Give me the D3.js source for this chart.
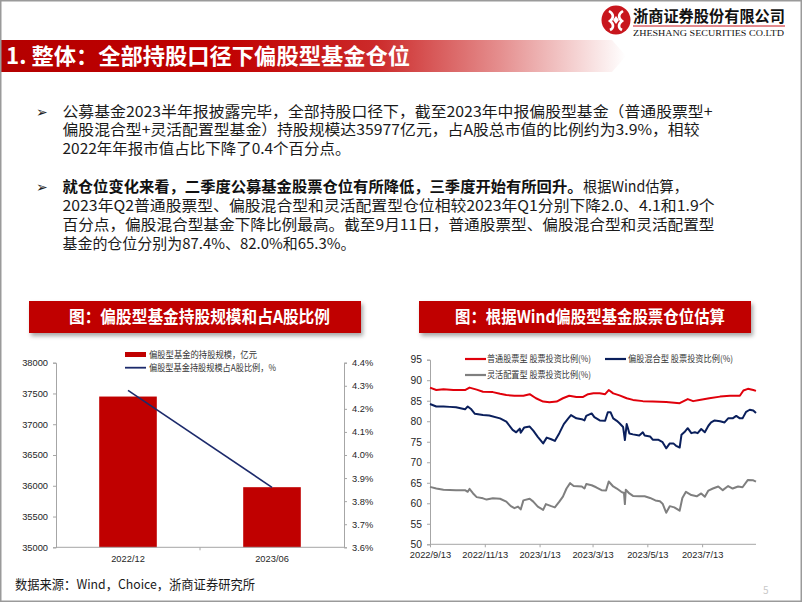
<!DOCTYPE html>
<html>
<head>
<meta charset="utf-8">
<script src="https://cdn.jsdelivr.net/npm/d3@7"></script>
<style>
body { margin: 0; background: #fff; }
svg { display: block; font-family: "Noto Sans CJK SC", "Noto Sans", sans-serif; }
.axis text { font-family: "Liberation Sans", Arial, sans-serif; font-size: 9.3px; fill: #262626; }
.axis.big text { font-size: 10.3px; }
.axis path, .axis line { stroke: #a6a6a6; }
</style>
</head>
<body>
<script>
// ---- data ----
var barCats = ["2022/12", "2023/06"];
var holdScale = [37450, 35977];      // 持股规模, 亿元
var holdShare = [4.28, 3.86];        // 占A股比例, %
var leftTicks = [35000, 35500, 36000, 36500, 37000, 37500, 38000];
var rightTicks = [3.6, 3.7, 3.8, 3.9, 4.0, 4.1, 4.2, 4.3, 4.4];

var posTicks = [50, 55, 60, 65, 70, 75, 80, 85, 90, 95];
var dateTicks = ["2022-09-13", "2022-11-13", "2023-01-13", "2023-03-13", "2023-05-13", "2023-07-13"];

var stockFund = [
  ["2022-09-13",88.2],["2022-09-20",87.6],["2022-09-28",87.8],["2022-10-09",87.6],["2022-10-22",87.6],
  ["2022-10-27",88.2],["2022-11-04",87.7],["2022-11-11",87.2],["2022-11-22",87.1],["2022-11-30",86.7],
  ["2022-12-07",86.4],["2022-12-16",86.2],["2022-12-26",86.2],["2023-01-02",86.6],["2023-01-09",85.6],
  ["2023-01-17",84.8],["2023-01-24",84.6],["2023-02-01",84.8],["2023-02-08",85.6],["2023-02-15",86.2],
  ["2023-02-23",85.9],["2023-03-02",85.9],["2023-03-08",86.6],["2023-03-14",86.8],["2023-03-21",86.8],
  ["2023-03-27",86.6],["2023-03-31",87.6],["2023-04-05",86.8],["2023-04-12",86.3],["2023-04-20",85.6],
  ["2023-04-27",85.2],["2023-05-08",84.9],["2023-05-19",84.8],["2023-06-03",84.7],["2023-06-18",84.4],
  ["2023-06-27",85.4],["2023-07-03",84.9],["2023-07-10",85.2],["2023-07-21",85.6],["2023-08-02",86.0],
  ["2023-08-13",86.2],["2023-08-24",86.2],["2023-08-28",87.5],["2023-09-02",87.9],["2023-09-08",87.6],
  ["2023-09-11",87.4]
];
var mixedFund = [
  ["2022-09-13",84.2],["2022-09-20",83.6],["2022-09-28",83.6],["2022-10-05",83.5],["2022-10-12",83.4],
  ["2022-10-22",82.9],["2022-10-25",83.6],["2022-10-29",82.9],["2022-11-02",81.8],["2022-11-11",81.5],
  ["2022-11-18",81.4],["2022-11-30",80.7],["2022-12-07",79.9],["2022-12-14",77.9],["2022-12-18",77.3],
  ["2022-12-22",78.2],["2022-12-23",77.2],["2022-12-27",78.5],["2023-01-02",78.7],["2023-01-06",77.7],
  ["2023-01-11",76.2],["2023-01-17",74.6],["2023-01-21",76.0],["2023-01-26",75.6],["2023-01-30",75.2],
  ["2023-02-04",77.1],["2023-02-09",79.3],["2023-02-14",80.7],["2023-02-17",81.5],["2023-02-23",80.7],
  ["2023-03-01",80.5],["2023-03-04",80.2],["2023-03-06",81.3],["2023-03-12",81.9],["2023-03-15",81.0],
  ["2023-03-21",80.2],["2023-03-27",80.1],["2023-03-30",82.2],["2023-04-02",82.2],["2023-04-05",80.7],
  ["2023-04-09",80.1],["2023-04-12",79.5],["2023-04-16",78.6],["2023-04-18",75.4],["2023-04-20",79.3],
  ["2023-04-21",78.6],["2023-04-23",77.0],["2023-04-27",76.8],["2023-05-04",76.5],["2023-05-08",77.3],
  ["2023-05-10",76.5],["2023-05-16",76.3],["2023-05-19",75.5],["2023-05-25",75.5],["2023-05-30",74.9],
  ["2023-06-03",73.4],["2023-06-07",74.6],["2023-06-11",74.6],["2023-06-14",74.0],["2023-06-18",73.6],
  ["2023-06-20",76.7],["2023-06-24",77.5],["2023-06-27",78.3],["2023-07-01",77.1],["2023-07-05",77.3],
  ["2023-07-08",77.1],["2023-07-12",78.1],["2023-07-16",77.3],["2023-07-20",78.9],["2023-07-23",79.7],
  ["2023-07-27",80.2],["2023-08-02",80.0],["2023-08-07",79.7],["2023-08-11",80.7],["2023-08-16",80.7],
  ["2023-08-20",81.3],["2023-08-24",80.7],["2023-08-27",80.7],["2023-08-31",82.3],["2023-09-04",82.8],
  ["2023-09-08",82.6],["2023-09-11",82.0]
];
var flexFund = [
  ["2022-09-13",64.0],["2022-09-20",63.6],["2022-09-28",63.3],["2022-10-12",63.2],["2022-10-22",63.2],
  ["2022-10-25",62.8],["2022-10-27",63.5],["2022-10-31",62.4],["2022-11-04",61.5],["2022-11-11",61.2],
  ["2022-11-15",60.9],["2022-11-22",61.2],["2022-11-30",61.1],["2022-12-07",60.4],["2022-12-12",59.3],
  ["2022-12-16",58.8],["2022-12-20",59.2],["2022-12-23",58.5],["2022-12-26",60.7],["2023-01-02",61.1],
  ["2023-01-06",60.4],["2023-01-11",59.2],["2023-01-17",58.4],["2023-01-20",59.8],["2023-01-26",59.3],
  ["2023-01-30",59.0],["2023-02-04",60.4],["2023-02-08",61.6],["2023-02-12",63.6],["2023-02-16",64.9],
  ["2023-02-20",64.2],["2023-03-01",64.1],["2023-03-04",63.6],["2023-03-06",64.7],["2023-03-12",64.4],
  ["2023-03-17",63.9],["2023-03-23",63.2],["2023-03-28",63.1],["2023-03-31",65.3],["2023-04-05",64.1],
  ["2023-04-09",63.6],["2023-04-14",62.8],["2023-04-17",62.5],["2023-04-18",59.8],["2023-04-19",63.3],
  ["2023-04-23",62.4],["2023-04-27",61.8],["2023-05-04",61.7],["2023-05-10",61.7],["2023-05-16",61.3],
  ["2023-05-22",60.7],["2023-05-27",60.5],["2023-05-30",59.9],["2023-06-03",57.7],["2023-06-07",59.3],
  ["2023-06-12",59.0],["2023-06-18",58.2],["2023-06-21",61.3],["2023-06-25",62.8],["2023-07-01",62.0],
  ["2023-07-07",61.7],["2023-07-12",62.4],["2023-07-16",61.6],["2023-07-20",63.1],["2023-07-25",63.6],
  ["2023-07-31",64.1],["2023-08-05",63.2],["2023-08-11",64.2],["2023-08-16",63.6],["2023-08-22",64.1],
  ["2023-08-27",63.9],["2023-09-02",65.7],["2023-09-08",65.6],["2023-09-11",65.3]
];

var seriesNames = ["普通股票型 股票投资比例(%)", "偏股混合型 股票投资比例(%)", "灵活配置型 股票投资比例(%)"];
var seriesColors = ["#e0000b", "#0a1f5c", "#7f7f7f"];

var svg = d3.select("body").append("svg")
    .attr("width", 802)
    .attr("height", 602);

var defs = svg.append("defs");
var grad = defs.append("linearGradient").attr("id", "bannerGrad")
    .attr("x1", "0%").attr("x2", "100%").attr("y1", "0%").attr("y2", "0%");
grad.append("stop").attr("offset", "0%").attr("stop-color", "#b40000");
grad.append("stop").attr("offset", "35%").attr("stop-color", "#c00000");
grad.append("stop").attr("offset", "60%").attr("stop-color", "#cc2a2a");
grad.append("stop").attr("offset", "80%").attr("stop-color", "#e58f8f");
grad.append("stop").attr("offset", "100%").attr("stop-color", "#ffffff");

var shadow = defs.append("filter").attr("id", "shadow")
    .attr("x", "-5%").attr("y", "-20%").attr("width", "115%").attr("height", "160%");
shadow.append("feDropShadow").attr("dx", 2).attr("dy", 3).attr("stdDeviation", 2)
    .attr("flood-color", "#000").attr("flood-opacity", 0.35);

// text fitted to the width measured on the slide
function txt(g, str, x, y, w, size, o) {
  o = o || {};
  var t = g.append("text")
      .attr("x", x).attr("y", y)
      .attr("font-size", size)
      .attr("fill", o.fill || "#1a1a1a")
      .text(str);
  if (o.bold) t.attr("font-weight", "bold");
  if (o.family) t.attr("font-family", o.family);
  if (o.anchor) t.attr("text-anchor", o.anchor);
  if (w) t.attr("textLength", w).attr("lengthAdjust", "spacingAndGlyphs");
  return t;
}

// ---- header ----
svg.append("path")
    .attr("d", "M0,40 L612,40 L626,56 L612,72 L0,72 Z")
    .style("fill", "url(#bannerGrad)");
txt(svg, "1. 整体：全部持股口径下偏股型基金仓位", 6, 64, 404, 22, {fill: "#fff", bold: true});

// logo
var logo = svg.append("g").attr("transform", "translate(616,20)");
logo.append("circle").attr("r", 14.5).style("fill", "#c8161d");
logo.append("path").attr("d", "M-7,-9 C-2,-6 -2,-2 -6,1 C-2,4 -2,8 -6,10")
    .style("fill", "none").style("stroke", "#fff").style("stroke-width", 2.6);
logo.append("path").attr("d", "M7,-9 C2,-6 2,-2 6,1 C2,4 2,8 6,10")
    .style("fill", "none").style("stroke", "#fff").style("stroke-width", 2.6);
logo.append("path").attr("d", "M0,-4 L3,0 L0,4 L-3,0 Z").style("fill", "#fff");
txt(svg, "浙商证券股份有限公司", 633, 22, 152, 15.5, {fill: "#111", bold: true});
svg.append("line").attr("x1", 633).attr("x2", 785).attr("y1", 26).attr("y2", 26)
    .style("stroke", "#c8161d").style("stroke-width", 1);
txt(svg, "ZHESHANG SECURITIES CO.LTD", 633, 36, 151, 9, {fill: "#111", family: "'Liberation Serif', serif"});

// ---- body text ----
var body = svg.append("g");
var fs = 15;
[116.5, 191.5].forEach(function(y) {
  txt(body, "➢", 36, y, null, 14, {family: "'DejaVu Sans', sans-serif", fill: "#222"});
});
txt(body, "公募基金2023半年报披露完毕，全部持股口径下，截至2023年中报偏股型基金（普通股票型+", 62.5, 116.5, 650, fs);
txt(body, "偏股混合型+灵活配置型基金）持股规模达35977亿元，占A股总市值的比例约为3.9%，相较", 62.5, 135, 637, fs);
txt(body, "2022年年报市值占比下降了0.4个百分点。", 62.5, 153.5, 288, fs);
txt(body, "就仓位变化来看，二季度公募基金股票仓位有所降低，三季度开始有所回升。", 62.5, 191.5, 520, fs, {bold: true, fill: "#111"});
txt(body, "根据Wind估算，", 583, 191.5, 105, fs);
txt(body, "2023年Q2普通股票型、偏股混合型和灵活配置型仓位相较2023年Q1分别下降2.0、4.1和1.9个", 62.5, 210.5, 652, fs);
txt(body, "百分点，偏股混合型基金下降比例最高。截至9月11日，普通股票型、偏股混合型和灵活配置型", 62.5, 229.5, 652, fs);
txt(body, "基金的仓位分别为87.4%、82.0%和65.3%。", 62.5, 248.5, 293, fs);

// ---- chart title boxes ----
[[29, "图：偏股型基金持股规模和占A股比例", 69, 261], [419, "图：根据Wind偏股型基金股票仓位估算", 455, 270]].forEach(function(b) {
  svg.append("rect").attr("x", b[0]).attr("y", 301).attr("width", 332).attr("height", 32)
      .style("fill", "#c00000").attr("filter", "url(#shadow)");
  txt(svg, b[1], b[2], 323, b[3], 17, {fill: "#fff", bold: true});
});

// ---- left chart: bars + line ----
var x0 = d3.scaleBand().domain(barCats).range([56, 344]).paddingInner(0.6).paddingOuter(0.3);
var yL = d3.scaleLinear().domain([35000, 38000]).range([547.3, 362.7]);
var yR = d3.scaleLinear().domain([3.6, 4.4]).range([547.3, 362.7]);

var left = svg.append("g");
left.selectAll(".bar")
    .data(barCats)
  .enter().append("rect")
    .attr("class", "bar")
    .attr("x", function(d) { return x0(d); })
    .attr("width", x0.bandwidth())
    .attr("y", function(d, i) { return yL(holdScale[i]); })
    .attr("height", function(d, i) { return yL(35000) - yL(holdScale[i]); })
    .style("fill", "#c00000");

left.append("g").attr("class", "axis")
    .attr("transform", "translate(56,0)")
    .call(d3.axisLeft(yL).tickValues(leftTicks).tickSize(3).tickPadding(5).tickFormat(d3.format("d")));
left.append("g").attr("class", "axis")
    .attr("transform", "translate(344,0)")
    .call(d3.axisRight(yR).tickValues(rightTicks).tickSize(3).tickPadding(5).tickFormat(function(d) { return d.toFixed(1) + "%"; }));
var xAxisL = left.append("g").attr("class", "axis")
    .attr("transform", "translate(0,547.3)")
    .call(d3.axisBottom(x0).tickSize(0).tickPadding(8));
xAxisL.select(".domain").attr("d", "M56,0H344");
xAxisL.append("line").attr("x1", 200).attr("x2", 200).attr("y1", 0).attr("y2", 3);

var lineL = d3.line()
    .x(function(d, i) { return x0(barCats[i]) + x0.bandwidth() / 2; })
    .y(function(d) { return yR(d); });
left.append("path")
    .datum(holdShare)
    .attr("d", lineL)
    .style("fill", "none")
    .style("stroke", "#1c2a6b")
    .style("stroke-width", 1.6);

// left legend
left.append("rect").attr("x", 125).attr("y", 352).attr("width", 21).attr("height", 5).style("fill", "#c00000");
txt(left, "偏股型基金的持股规模，亿元", 149, 357.5, 108, 9, {fill: "#333"});
left.append("line").attr("x1", 125).attr("x2", 146).attr("y1", 367.7).attr("y2", 367.7)
    .style("stroke", "#1c2a6b").style("stroke-width", 1.8);
txt(left, "偏股型基金持股规模占A股比例，%", 149, 371, 127, 9, {fill: "#333"});

// ---- right chart: positions ----
var parse = d3.timeParse("%Y-%m-%d");
var xT = d3.scaleTime().domain([parse("2022-09-13"), parse("2023-09-11")]).range([430, 756]);
var yP = d3.scaleLinear().domain([50, 95]).range([544.3, 359.7]);

var right = svg.append("g");
right.append("g").attr("class", "axis big")
    .attr("transform", "translate(430,0)")
    .call(d3.axisLeft(yP).tickValues(posTicks).tickSize(3).tickPadding(5));
var xAxisR = right.append("g").attr("class", "axis")
    .attr("transform", "translate(0,544.3)")
    .call(d3.axisBottom(xT).tickValues(dateTicks.map(parse)).tickSize(3).tickPadding(4)
      .tickFormat(d3.timeFormat("%Y/%-m/%-d")));
xAxisR.select(".domain").attr("d", "M430,0H756");

var lineR = d3.line()
    .x(function(d) { return xT(parse(d[0])); })
    .y(function(d) { return yP(d[1]); });

[flexFund, mixedFund, stockFund].forEach(function(s, k) {
  var idx = [2, 1, 0][k];
  right.append("path")
      .datum(s)
      .attr("d", lineR)
      .style("fill", "none")
      .style("stroke", seriesColors[idx])
      .style("stroke-width", 2)
      .style("stroke-linejoin", "round");
});

// right legend
var legPos = [[465, 359, 487, 104], [605, 359, 628, 105], [465, 375, 487, 104]];
legPos.forEach(function(p, i) {
  right.append("line").attr("x1", p[0]).attr("x2", p[0] + 21).attr("y1", p[1]).attr("y2", p[1])
      .style("stroke", seriesColors[i]).style("stroke-width", 2.2);
  txt(right, seriesNames[i], p[2], p[1] + 3.2, p[3], 9, {fill: "#333"});
});

// ---- footer ----
txt(svg, "数据来源：Wind，Choice，浙商证券研究所", 15, 589, 240, 13, {fill: "#1a1a1a"});
txt(svg, "5", 763, 594, null, 10, {fill: "#c8c8c8"});

// slide border
svg.append("rect").attr("x", 0.75).attr("y", 0.75).attr("width", 800.5).attr("height", 600.5)
    .style("fill", "none").style("stroke", "#9a9a9a").style("stroke-width", 1.5);
</script>
</body>
</html>
